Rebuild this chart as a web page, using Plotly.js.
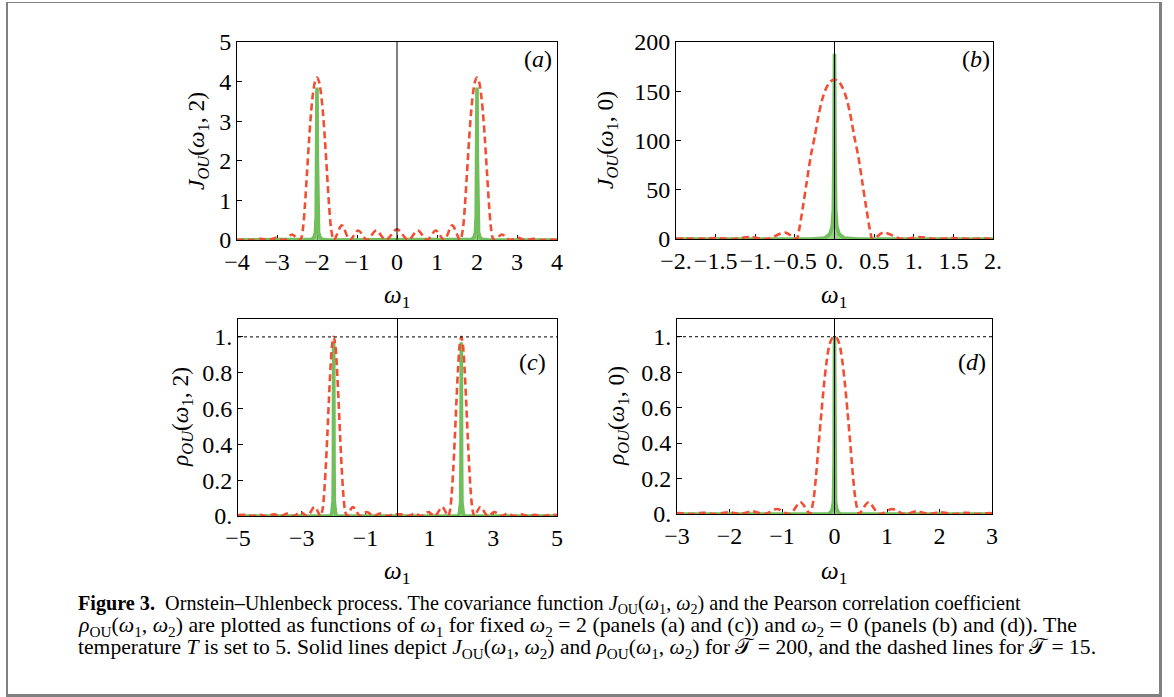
<!DOCTYPE html>
<html>
<head>
<meta charset="utf-8">
<script src="https://cdn.plot.ly/plotly-3.0.1.min.js"></script>
<style>
html,body{margin:0;padding:0;background:#fff;}
#chart{width:1174px;height:697px;}
</style>
</head>
<body>
<div id="chart"></div>
<script>
// ---------------- DATA ----------------
// Panel (a): J_OU(w1, 2)
const aRedX = [-4,-3.8,-3.6,-3.4,-3.2,-3.0,-2.82,-2.62,-2.45,-2.4,-2.35,-2.3,-2.25,-2.2,-2.15,-2.1,-2.05,-2.0,-1.95,-1.9,-1.85,-1.8,-1.75,-1.7,-1.65,-1.6,-1.57,-1.38,-1.18,-0.97,-0.75,-0.52,-0.28,0,0.28,0.52,0.75,0.97,1.18,1.38,1.57,1.6,1.65,1.7,1.75,1.8,1.85,1.9,1.95,2.0,2.05,2.1,2.15,2.2,2.25,2.3,2.35,2.4,2.45,2.62,2.82,3.0,3.2,3.4,3.6,3.8,4];
const aRedY = [0,0.01,0,0.03,0,0.06,0,0.14,0,0.04,0.3,0.9,1.7,2.5,3.2,3.7,4.0,4.1,4.0,3.7,3.2,2.5,1.7,0.9,0.3,0.04,0,0.37,0,0.24,0,0.24,0,0.27,0,0.24,0,0.24,0,0.37,0,0.04,0.3,0.9,1.7,2.5,3.2,3.7,4.0,4.1,4.0,3.7,3.2,2.5,1.7,0.9,0.3,0.04,0,0.14,0,0.06,0,0.03,0,0.01,0];
const aGreenX = [-4,-2.3,-2.12,-2.07,-2.04,-2.02,-2.01,-2.0,-1.99,-1.98,-1.96,-1.93,-1.88,-1.7,1.7,1.88,1.93,1.96,1.98,1.99,2.0,2.01,2.02,2.04,2.07,2.12,2.3,4];
const aGreenY = [0,0,0.02,0.08,0.2,0.6,2.0,3.85,2.0,0.6,0.2,0.08,0.02,0,0,0.02,0.08,0.2,0.6,2.0,3.85,2.0,0.6,0.2,0.08,0.02,0,0];
const aXTicks = [-4,-3,-2,-1,0,1,2,3,4];
const aXText = ['\u22124','\u22123','\u22122','\u22121','0','1','2','3','4'];
const aYTicks = [0,1,2,3,4,5];
const aYText = ['0','1','2','3','4','5'];

// Panel (b): J_OU(w1, 0)
const bRedX = [-2,-1.9,-1.72,-1.5,-1.28,-1.07,-0.85,-0.62,-0.48,-0.45,-0.4,-0.35,-0.3,-0.25,-0.2,-0.15,-0.1,-0.05,0,0.05,0.1,0.15,0.2,0.25,0.3,0.35,0.4,0.45,0.48,0.62,0.85,1.07,1.28,1.5,1.72,1.9,2];
const bRedY = [0.2,0.4,0,0.9,0,2.0,0,6.5,0,8,32,58,84,104,126,143,154,160,162,160,154,143,126,104,84,58,32,8,0,6.5,0,2.0,0,0.9,0,0.4,0.2];
const bGreenX = [-2,-0.3,-0.12,-0.06,-0.03,-0.015,-0.008,0,0.008,0.015,0.03,0.06,0.12,0.3,2];
const bGreenY = [0,0,1,5,12,30,80,188,80,30,12,5,1,0,0];
const bXTicks = [-2,-1.5,-1,-0.5,0,0.5,1,1.5,2];
const bXText = ['\u22122.','\u22121.5','\u22121.','\u22120.5','0.','0.5','1.','1.5','2.'];
const bYTicks = [0,50,100,150,200];
const bYText = ['0','50','100','150','200'];

// Panel (c): rho_OU(w1, 2)
const cRedX = [-5,-4.75,-4.55,-4.3,-4.1,-3.87,-3.66,-3.45,-3.25,-3.04,-2.83,-2.6,-2.42,-2.4,-2.35,-2.3,-2.25,-2.2,-2.15,-2.1,-2.05,-2.0,-1.95,-1.9,-1.85,-1.8,-1.75,-1.7,-1.65,-1.6,-1.58,-1.4,-1.17,-0.96,-0.75,-0.55,-0.33,-0.12,0.12,0.33,0.55,0.75,0.96,1.17,1.4,1.58,1.6,1.65,1.7,1.75,1.8,1.85,1.9,1.95,2.0,2.05,2.1,2.15,2.2,2.25,2.3,2.35,2.4,2.42,2.6,2.83,3.04,3.25,3.45,3.66,3.87,4.1,4.3,4.55,4.75,5];
const cRedY = [0.005,0.006,0,0.007,0,0.009,0,0.013,0,0.022,0,0.05,0,0.003,0.035,0.125,0.27,0.45,0.65,0.83,0.955,1.0,0.955,0.83,0.65,0.45,0.27,0.125,0.035,0.003,0,0.05,0,0.022,0,0.013,0,0.009,0.009,0,0.013,0,0.022,0,0.05,0,0.003,0.035,0.125,0.27,0.45,0.65,0.83,0.955,1.0,0.955,0.83,0.65,0.45,0.27,0.125,0.035,0.003,0,0.05,0,0.022,0,0.013,0,0.009,0,0.007,0,0.006,0.005];
const cGreenX = [-5,-2.1,-2.06,-2.035,-2.02,-2.01,-2.0,-1.99,-1.98,-1.965,-1.94,-1.9,1.9,1.94,1.965,1.98,1.99,2.0,2.01,2.02,2.035,2.06,2.1,5];
const cGreenY = [0,0,0.015,0.04,0.08,0.3,0.97,0.3,0.08,0.04,0.015,0,0,0.015,0.04,0.08,0.3,0.97,0.3,0.08,0.04,0.015,0,0];
const cXTicks = [-5,-3,-1,1,3,5];
const cXText = ['\u22125','\u22123','\u22121','1','3','5'];
const rhoYTicks = [0,0.2,0.4,0.6,0.8,1];
const rhoYText = ['0.','0.2','0.4','0.6','0.8','1.'];

// Panel (d): rho_OU(w1, 0)
const dRedX = [-3,-2.95,-2.72,-2.5,-2.25,-2.02,-1.8,-1.57,-1.33,-1.1,-0.85,-0.65,-0.47,-0.45,-0.4,-0.35,-0.3,-0.25,-0.2,-0.15,-0.1,-0.05,0,0.05,0.1,0.15,0.2,0.25,0.3,0.35,0.4,0.45,0.47,0.65,0.85,1.1,1.33,1.57,1.8,2.02,2.25,2.5,2.72,2.95,3];
const dRedY = [0.004,0.005,0,0.007,0,0.01,0,0.015,0,0.028,0,0.066,0,0.01,0.08,0.22,0.4,0.57,0.73,0.86,0.95,0.99,1.0,0.99,0.95,0.86,0.73,0.57,0.4,0.22,0.08,0.01,0,0.066,0,0.028,0,0.015,0,0.01,0,0.007,0,0.005,0.004];
const dGreenX = [-3,-0.12,-0.07,-0.04,-0.02,-0.008,0,0.008,0.02,0.04,0.07,0.12,3];
const dGreenY = [0,0,0.01,0.03,0.07,0.3,1.0,0.3,0.07,0.03,0.01,0,0];
const dXTicks = [-3,-2,-1,0,1,2,3];
const dXText = ['\u22123','\u22122','\u22121','0','1','2','3'];

// Caption lines
const captionLines = [
  '<b>Figure 3.</b>  Ornstein\u2013Uhlenbeck process. The covariance function <i>J</i><sub>OU</sub>(<i>\u03c9</i><sub>1</sub>, <i>\u03c9</i><sub>2</sub>) and the Pearson correlation coefficient',
  '<i>\u03c1</i><sub>OU</sub>(<i>\u03c9</i><sub>1</sub>, <i>\u03c9</i><sub>2</sub>) are plotted as functions of <i>\u03c9</i><sub>1</sub> for fixed <i>\u03c9</i><sub>2</sub> = 2 (panels (a) and (c)) and <i>\u03c9</i><sub>2</sub> = 0 (panels (b) and (d)). The',
  'temperature <i>T</i> is set to 5. Solid lines depict <i>J</i><sub>OU</sub>(<i>\u03c9</i><sub>1</sub>, <i>\u03c9</i><sub>2</sub>) and <i>\u03c1</i><sub>OU</sub>(<i>\u03c9</i><sub>1</sub>, <i>\u03c9</i><sub>2</sub>) for \ud835\udcaf = 200, and the dashed lines for \ud835\udcaf = 15.'
];

// ---------------- LAYOUT HELPERS ----------------
const W = 1174, H = 697;
const px = v => v / W;
const py = v => 1 - v / H;
const FONT = 'Liberation Serif, Times New Roman, serif';
const RED = 'rgb(242,78,52)';
const GREEN = 'rgb(112,190,92)';
const GREENFILL = 'rgba(118,194,96,0.75)';
const TICKSIZE = 24;

function red(x, y, xa, ya) {
  return {x: x, y: y, xaxis: xa, yaxis: ya, type: 'scatter', mode: 'lines',
    line: {color: RED, width: 2.6, dash: '7px,4px', shape: 'spline', smoothing: 0.9},
    hoverinfo: 'skip', showlegend: false};
}
function green(x, y, xa, ya) {
  return {x: x, y: y, xaxis: xa, yaxis: ya, type: 'scatter', mode: 'lines',
    line: {color: GREEN, width: 3.6}, fill: 'tozeroy', fillcolor: GREENFILL,
    hoverinfo: 'skip', showlegend: false};
}

const data = [
  green(aGreenX, aGreenY, 'x', 'y'), red(aRedX, aRedY, 'x', 'y'),
  green(bGreenX, bGreenY, 'x2', 'y2'), red(bRedX, bRedY, 'x2', 'y2'),
  green(cGreenX, cGreenY, 'x3', 'y3'), red(cRedX, cRedY, 'x3', 'y3'),
  green(dGreenX, dGreenY, 'x4', 'y4'), red(dRedX, dRedY, 'x4', 'y4')
];

function axis(domain, range, tv, tt, anchor) {
  return {domain: domain, range: range, anchor: anchor, tickvals: tv, ticktext: tt,
    showline: true, mirror: true, linecolor: 'black', linewidth: 1,
    ticks: 'inside', ticklen: 5, tickcolor: 'black', tickwidth: 1,
    showgrid: false, zeroline: false, layer: 'below traces', automargin: false,
    tickfont: {family: FONT, size: TICKSIZE, color: 'black'}, fixedrange: true};
}

const ann = [];
function addText(text, x, y, size, opts) {
  ann.push(Object.assign({text: text, x: px(x), y: py(y), xref: 'paper', yref: 'paper',
    xanchor: 'center', yanchor: 'middle',
    showarrow: false, font: {family: FONT, size: size, color: 'black'}}, opts || {}));
}
// axis titles
const w1 = '<i>\u03c9</i><sub>1</sub>';
addText(w1, 397, 297, 25);
addText(w1, 834, 297, 25);
addText(w1, 397, 572, 25);
addText(w1, 834, 572, 25);
addText('<i>J<sub>OU</sub></i>(<i>\u03c9</i><sub>1</sub>, 2)', 198, 141, 23.5, {textangle: -90});
addText('<i>J<sub>OU</sub></i>(<i>\u03c9</i><sub>1</sub>, 0)', 607, 140, 23.5, {textangle: -90});
addText('<i>\u03c1<sub>OU</sub></i>(<i>\u03c9</i><sub>1</sub>, 2)', 182, 417, 23.5, {textangle: -90});
addText('<i>\u03c1<sub>OU</sub></i>(<i>\u03c9</i><sub>1</sub>, 0)', 618, 416, 23.5, {textangle: -90});
// panel labels
addText('(<i>a</i>)', 538, 59, 24);
addText('(<i>b</i>)', 976, 59, 24);
addText('(<i>c</i>)', 532, 362, 24);
addText('(<i>d</i>)', 972, 362, 24);
// caption
const capY = [604, 626, 648];
const capSize = [20.2, 21.8, 21.6];
captionLines.forEach((t, i) => addText(t, 76, capY[i], capSize[i], {xanchor: 'left', align: 'left'}));

const shapes = [
  // frame border
  {type: 'line', xref: 'paper', yref: 'paper', x0: px(7), x1: px(7), y0: py(2), y1: py(697), line: {color: '#808080', width: 2}},
  {type: 'line', xref: 'paper', yref: 'paper', x0: px(6), x1: px(1162), y0: py(2.5), y1: py(2.5), line: {color: '#808080', width: 1}},
  {type: 'line', xref: 'paper', yref: 'paper', x0: px(1160.5), x1: px(1160.5), y0: py(2), y1: py(697), line: {color: '#808080', width: 3}},
  {type: 'line', xref: 'paper', yref: 'paper', x0: px(6), x1: px(1162), y0: py(695.5), y1: py(695.5), line: {color: '#808080', width: 3}}
];
// vertical lines at w1 = 0 and dotted lines at rho = 1
[['x','y'],['x2','y2'],['x3','y3'],['x4','y4']].forEach(p => {
  shapes.push({type: 'line', xref: p[0], yref: p[1] + ' domain', x0: 0, x1: 0, y0: 0, y1: 1,
    line: {color: 'black', width: 1}, layer: 'above'});
});
[['x3','y3'],['x4','y4']].forEach(p => {
  shapes.push({type: 'line', xref: p[0] + ' domain', yref: p[1], x0: 0, x1: 1, y0: 1, y1: 1,
    line: {color: 'black', width: 1, dash: 'dot'}, layer: 'above'});
});

const layout = {
  width: W, height: H, margin: {l: 0, r: 0, t: 0, b: 0},
  paper_bgcolor: 'white', plot_bgcolor: 'white', showlegend: false,
  xaxis:  axis([px(237), px(557)], [-4, 4], aXTicks, aXText, 'y'),
  yaxis:  axis([py(240), py(42)], [0, 5], aYTicks, aYText, 'x'),
  xaxis2: axis([px(676), px(993)], [-2, 2], bXTicks, bXText, 'y2'),
  yaxis2: axis([py(239), py(42)], [0, 200], bYTicks, bYText, 'x2'),
  xaxis3: axis([px(238), px(557)], [-5, 5], cXTicks, cXText, 'y3'),
  yaxis3: axis([py(516), py(319)], [0, 1.1], rhoYTicks, rhoYText, 'x3'),
  xaxis4: axis([px(677), px(992)], [-3, 3], dXTicks, dXText, 'y4'),
  yaxis4: axis([py(514), py(319)], [0, 1.1], rhoYTicks, rhoYText, 'x4'),
  annotations: ann, shapes: shapes
};

Plotly.newPlot('chart', data, layout, {displayModeBar: false, staticPlot: true});
</script>
</body>
</html>
